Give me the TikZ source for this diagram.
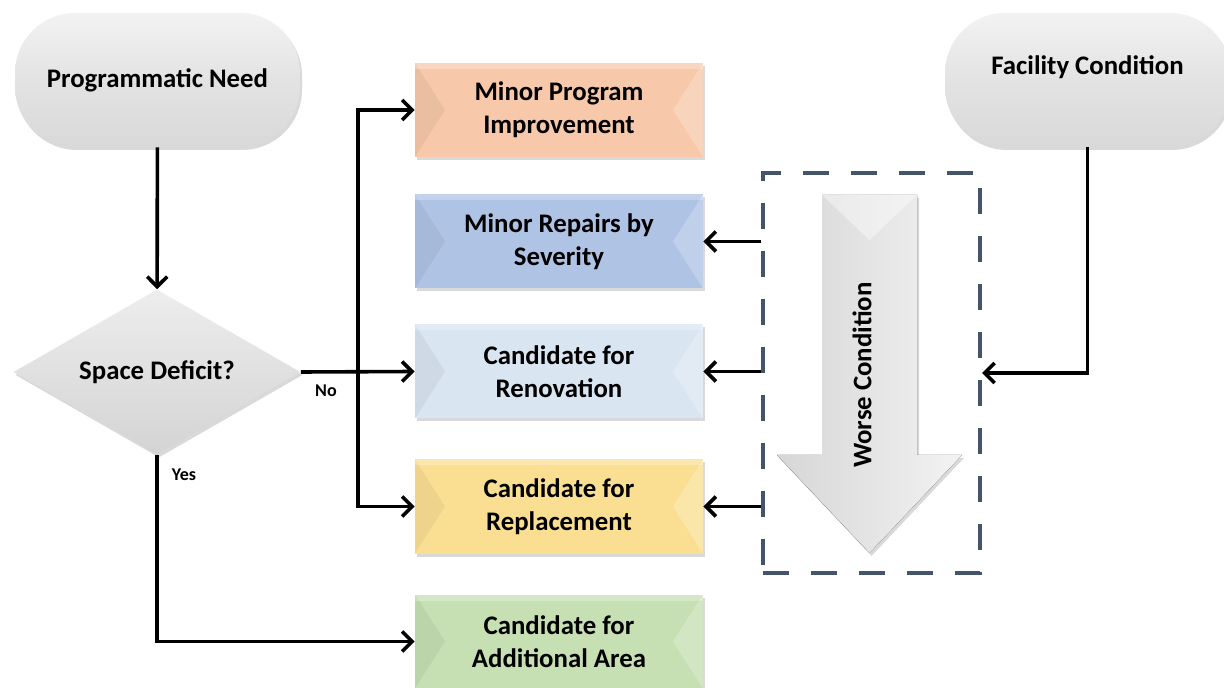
\documentclass[tikz,border=0pt]{standalone}
\usepackage{fontspec}
\setmainfont{Carlito}
\usetikzlibrary{positioning, shapes.geometric, arrows.meta, shadows, calc}

\definecolor{improvecol}{HTML}{F7C9AA}
\definecolor{repaircol}{HTML}{AFC3E5}
\definecolor{renovcol}{HTML}{DAE5F2}
\definecolor{replacecol}{HTML}{FADF93}
\definecolor{areacol}{HTML}{C6E0B4}
\definecolor{slatecol}{HTML}{44546A}

\tikzset{
	flow/.style={line width=1.8pt, -{Straight Barb[length=5pt,width=10pt,line width=1.8pt]}},
	boxfont/.style={font=\fontsize{13.4}{16.5}\selectfont\bfseries},
	softshadow/.style={drop shadow={opacity=0.3, shadow xshift=1pt, shadow yshift=-1.5pt}},
	bevelbox/.style={boxfont, softshadow, fill=#1, align=center, inner sep=0pt,
		minimum width=144pt, minimum height=47pt,
		path picture={
			\fill[black, opacity=0.05] (path picture bounding box.north west) -- ([xshift=15pt]path picture bounding box.west) -- (path picture bounding box.south west) -- cycle;
			\fill[white, opacity=0.22] (path picture bounding box.north east) -- ([xshift=-15pt]path picture bounding box.east) -- (path picture bounding box.south east) -- cycle;
			\fill[white, opacity=0.25] (path picture bounding box.north west) rectangle ([yshift=-3pt]path picture bounding box.north east);
		}},
	terminal/.style={boxfont, softshadow, rounded corners=30pt, top color=gray!10, bottom color=gray!30, middle color=gray!22,
		minimum width=142.5pt, minimum height=67pt, inner sep=0pt},
	decision/.style={boxfont, softshadow, diamond, aspect=1.74, top color=gray!14, bottom color=gray!34,
		minimum width=143.5pt, minimum height=82.5pt, inner sep=0pt},
	smalllabel/.style={font=\fontsize{9}{10}\selectfont\bfseries},
}

\begin{document}
\begin{tikzpicture}[x=0.5pt, y=-0.5pt]
	\useasboundingbox (0,0) rectangle (1224,688);
	% left column
	\node[terminal] (need) at (157.5,80) {Programmatic Need};
	\node[decision] (sd) at (157,372) {Space Deficit?};
	% outcome boxes
	\node[bevelbox=improvecol] (mpi) at (559,110) {Minor Program\\Improvement};
	\node[bevelbox=repaircol] (repairs) at (559,241.5) {Minor Repairs by\\Severity};
	\node[bevelbox=renovcol] (ren) at (559,371.5) {Candidate for\\Renovation};
	\node[bevelbox=replacecol] (rep) at (559,506.5) {Candidate for\\Replacement};
	\node[bevelbox=areacol] (add) at (559,641.5) {Candidate for\\Additional Area};
	% right column
	\node[terminal, text depth=15pt] (fac) at (1087.5,80) {Facility Condition};
	\node[draw=slatecol, line width=2pt, dash pattern=on 13pt off 11pt, minimum width=108.5pt, minimum height=200pt] (cond) at (871.5,373) {};
	\fill[left color=gray!32, right color=gray!10, softshadow] (822,195) -- (917,195) -- (917,455) -- (962,455) -- (869.5,553) -- (777,455) -- (822,455) -- cycle;
	\fill[white, opacity=0.4] (822,195) -- (917,195) -- (869.5,240) -- cycle;	% bevel
	\node[boxfont, rotate=90] (worse) at (862,375) {Worse Condition};
	% connectors
	\coordinate (bus) at ($(sd.east)!0.5!(ren.west)$);
	\draw[flow] (need) -- (sd);
	\draw[flow] (sd.east) -- (ren.west);
	\draw[flow] (bus) |- (mpi.west);
	\draw[flow] (bus) |- (rep.west);
	\draw[flow] (sd.south) |- (add.west);
	\draw[flow] (fac.south) |- (cond.east);
	\draw[flow] (cond.west |- repairs) -- (repairs.east);
	\draw[flow] (cond.west |- ren) -- (ren.east);
	\draw[flow] (cond.west |- rep) -- (rep.east);
	\node[smalllabel] (no) at (326,391) {No};
	\node[smalllabel] (yes) at (184,475) {Yes};
\end{tikzpicture}
\end{document}
